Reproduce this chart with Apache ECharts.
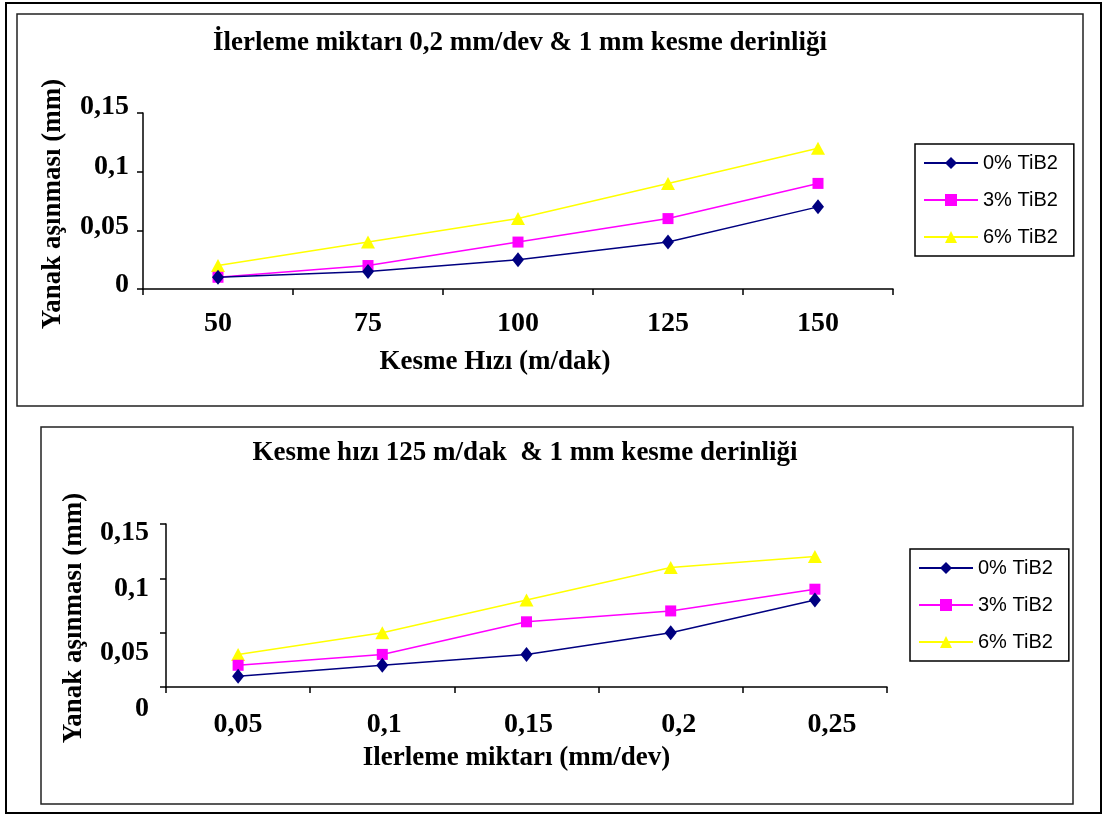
<!DOCTYPE html>
<html>
<head>
<meta charset="utf-8">
<script src="https://cdn.jsdelivr.net/npm/echarts@6/dist/echarts.min.js"></script>
<style>
  html, body { margin: 0; padding: 0; background: #fff; }
  #chart { width: 1105px; height: 816px; }
</style>
</head>
<body>
<div id="chart"></div>
<script>
// Yanak aşınması ölçümleri (mm)
const seriesNames = ['0% TiB2', '3% TiB2', '6% TiB2'];

// Üst grafik: kesme hızına göre
const speedCategories = ['50', '75', '100', '125', '150'];
const speedWear0 = [0.01, 0.015, 0.025, 0.04, 0.07];
const speedWear3 = [0.01, 0.02, 0.04, 0.06, 0.09];
const speedWear6 = [0.02, 0.04, 0.06, 0.09, 0.12];

// Alt grafik: ilerleme miktarına göre
const feedCategories = ['0,05', '0,1', '0,15', '0,2', '0,25'];
const feedWear0 = [0.01, 0.02, 0.03, 0.05, 0.08];
const feedWear3 = [0.02, 0.03, 0.06, 0.07, 0.09];
const feedWear6 = [0.03, 0.05, 0.08, 0.11, 0.12];

const yTickLabels = ['0', '0,05', '0,1', '0,15'];
const yStep = 0.05;

const SERIF = '"Liberation Serif", "Times New Roman", serif';
const SANS = '"Liberation Sans", Arial, sans-serif';
const colors = ['#000080', '#FF00FF', '#FFFF00'];
const symbols = ['diamond', 'rect', 'triangle'];
const symbolSizes = [[12, 15], 11, [14, 13]];

// Vertical nudges (px, positive = down) for y tick labels of each panel
const topYShift = [-4, -4, -5, -6];
const botYShift = [22, 20, 10, 9];
// Horizontal nudges for the lower panel's category labels
const botXShift = [0, 2, 2, 8, 17];

const labelFont = { fontFamily: SERIF, fontWeight: 'bold', fontSize: 28, color: '#000' };
const nameFont = { fontFamily: SERIF, fontWeight: 'bold', fontSize: 27, color: '#000' };

function yRich(shifts) {
  const rich = {};
  shifts.forEach((d, i) => {
    rich['s' + i] = Object.assign({}, labelFont, {
      padding: [d > 0 ? 2 * d : 0, 0, d < 0 ? -2 * d : 0, 0]
    });
  });
  return rich;
}
function xRich(shifts) {
  const rich = {};
  shifts.forEach((d, i) => {
    rich['s' + i] = Object.assign({}, labelFont, {
      padding: [0, d < 0 ? -2 * d : 0, 0, d > 0 ? 2 * d : 0]
    });
  });
  return rich;
}

const axisLine = { show: true, lineStyle: { color: '#000', width: 1.5 } };
const axisTick = { show: true, length: 6, lineStyle: { color: '#000', width: 1.5 } };

function yAxis(gridIndex, shifts, margin, nameGap, namePad) {
  return {
    type: 'value', gridIndex, min: 0, max: 0.15, interval: yStep,
    axisLine, axisTick, splitLine: { show: false },
    axisLabel: {
      margin,
      formatter: v => { const i = Math.round(v / yStep); return '{s' + i + '|' + yTickLabels[i] + '}'; },
      rich: yRich(shifts)
    },
    name: 'Yanak aşınması (mm)', nameLocation: 'middle', nameGap,
    nameTextStyle: Object.assign({}, nameFont, { padding: namePad })
  };
}

function xAxis(gridIndex, cats, name, margin, nameGap, namePad, shifts) {
  const ax = {
    type: 'category', gridIndex, data: cats, boundaryGap: true,
    axisLine, axisTick: Object.assign({}, axisTick, { alignWithLabel: false }),
    axisLabel: Object.assign({ margin, interval: 0 }, labelFont),
    name, nameLocation: 'middle', nameGap,
    nameTextStyle: Object.assign({}, nameFont, { padding: namePad })
  };
  if (shifts) {
    ax.axisLabel.formatter = (v, i) => '{s' + i + '|' + v + '}';
    ax.axisLabel.rich = xRich(shifts);
  }
  return ax;
}

function lineSeries(idx, gridIdx, data) {
  return {
    type: 'line', name: seriesNames[idx], data,
    xAxisIndex: gridIdx, yAxisIndex: gridIdx,
    symbol: symbols[idx], symbolSize: symbolSizes[idx], showSymbol: true,
    lineStyle: { color: colors[idx], width: 1.5 },
    itemStyle: { color: colors[idx] },
    z: 3 - idx
  };
}

function legend(left, top) {
  return {
    orient: 'vertical', left, top, data: seriesNames,
    backgroundColor: '#fff', borderColor: '#000', borderWidth: 1.5,
    padding: [9, 16, 9, 8], itemWidth: 54, itemHeight: 15, itemGap: 17, selectedMode: false,
    textStyle: { fontFamily: SANS, fontSize: 20, lineHeight: 20, color: '#000' }
  };
}

const chart = echarts.init(document.getElementById('chart'), null, { renderer: 'canvas' });
chart.setOption({
  animation: false,
  backgroundColor: '#fff',
  grid: [
    { left: 143, top: 113, width: 750, height: 176 },
    { left: 166, top: 524, width: 721, height: 163 }
  ],
  xAxis: [
    xAxis(0, speedCategories, 'Kesme Hızı (m/dak)', 21, 60, [0, 46, 0, 0]),
    xAxis(1, feedCategories, 'Ilerleme miktarı (mm/dev)', 24, 58, [0, 20, 0, 0], botXShift)
  ],
  yAxis: [
    yAxis(0, topYShift, 14, 76, [0, 6, 0, 0]),
    yAxis(1, botYShift, 17, 78, [0, 25, 0, 0])
  ],
  legend: [legend(915, 144), legend(910, 549)],
  graphic: [
    { type: 'rect', shape: { x: 6, y: 3, width: 1095, height: 810 }, style: { fill: null, stroke: '#000', lineWidth: 2 }, silent: true, z: -10 },
    { type: 'rect', shape: { x: 17, y: 14, width: 1066, height: 392 }, style: { fill: null, stroke: '#222', lineWidth: 1.5 }, silent: true, z: -10 },
    { type: 'rect', shape: { x: 41, y: 427, width: 1032, height: 377 }, style: { fill: null, stroke: '#222', lineWidth: 1.5 }, silent: true, z: -10 },
    { type: 'text', x: 520, y: 43, style: { text: 'İlerleme miktarı 0,2 mm/dev & 1 mm kesme derinliği', align: 'center', verticalAlign: 'middle', font: 'bold 27px ' + SERIF, fill: '#000' } },
    { type: 'text', x: 525, y: 453, style: { text: 'Kesme hızı 125 m/dak  & 1 mm kesme derinliği', align: 'center', verticalAlign: 'middle', font: 'bold 27px ' + SERIF, fill: '#000' } }
  ],
  series: [
    lineSeries(0, 0, speedWear0), lineSeries(1, 0, speedWear3), lineSeries(2, 0, speedWear6),
    lineSeries(0, 1, feedWear0), lineSeries(1, 1, feedWear3), lineSeries(2, 1, feedWear6)
  ]
});
</script>
</body>
</html>
